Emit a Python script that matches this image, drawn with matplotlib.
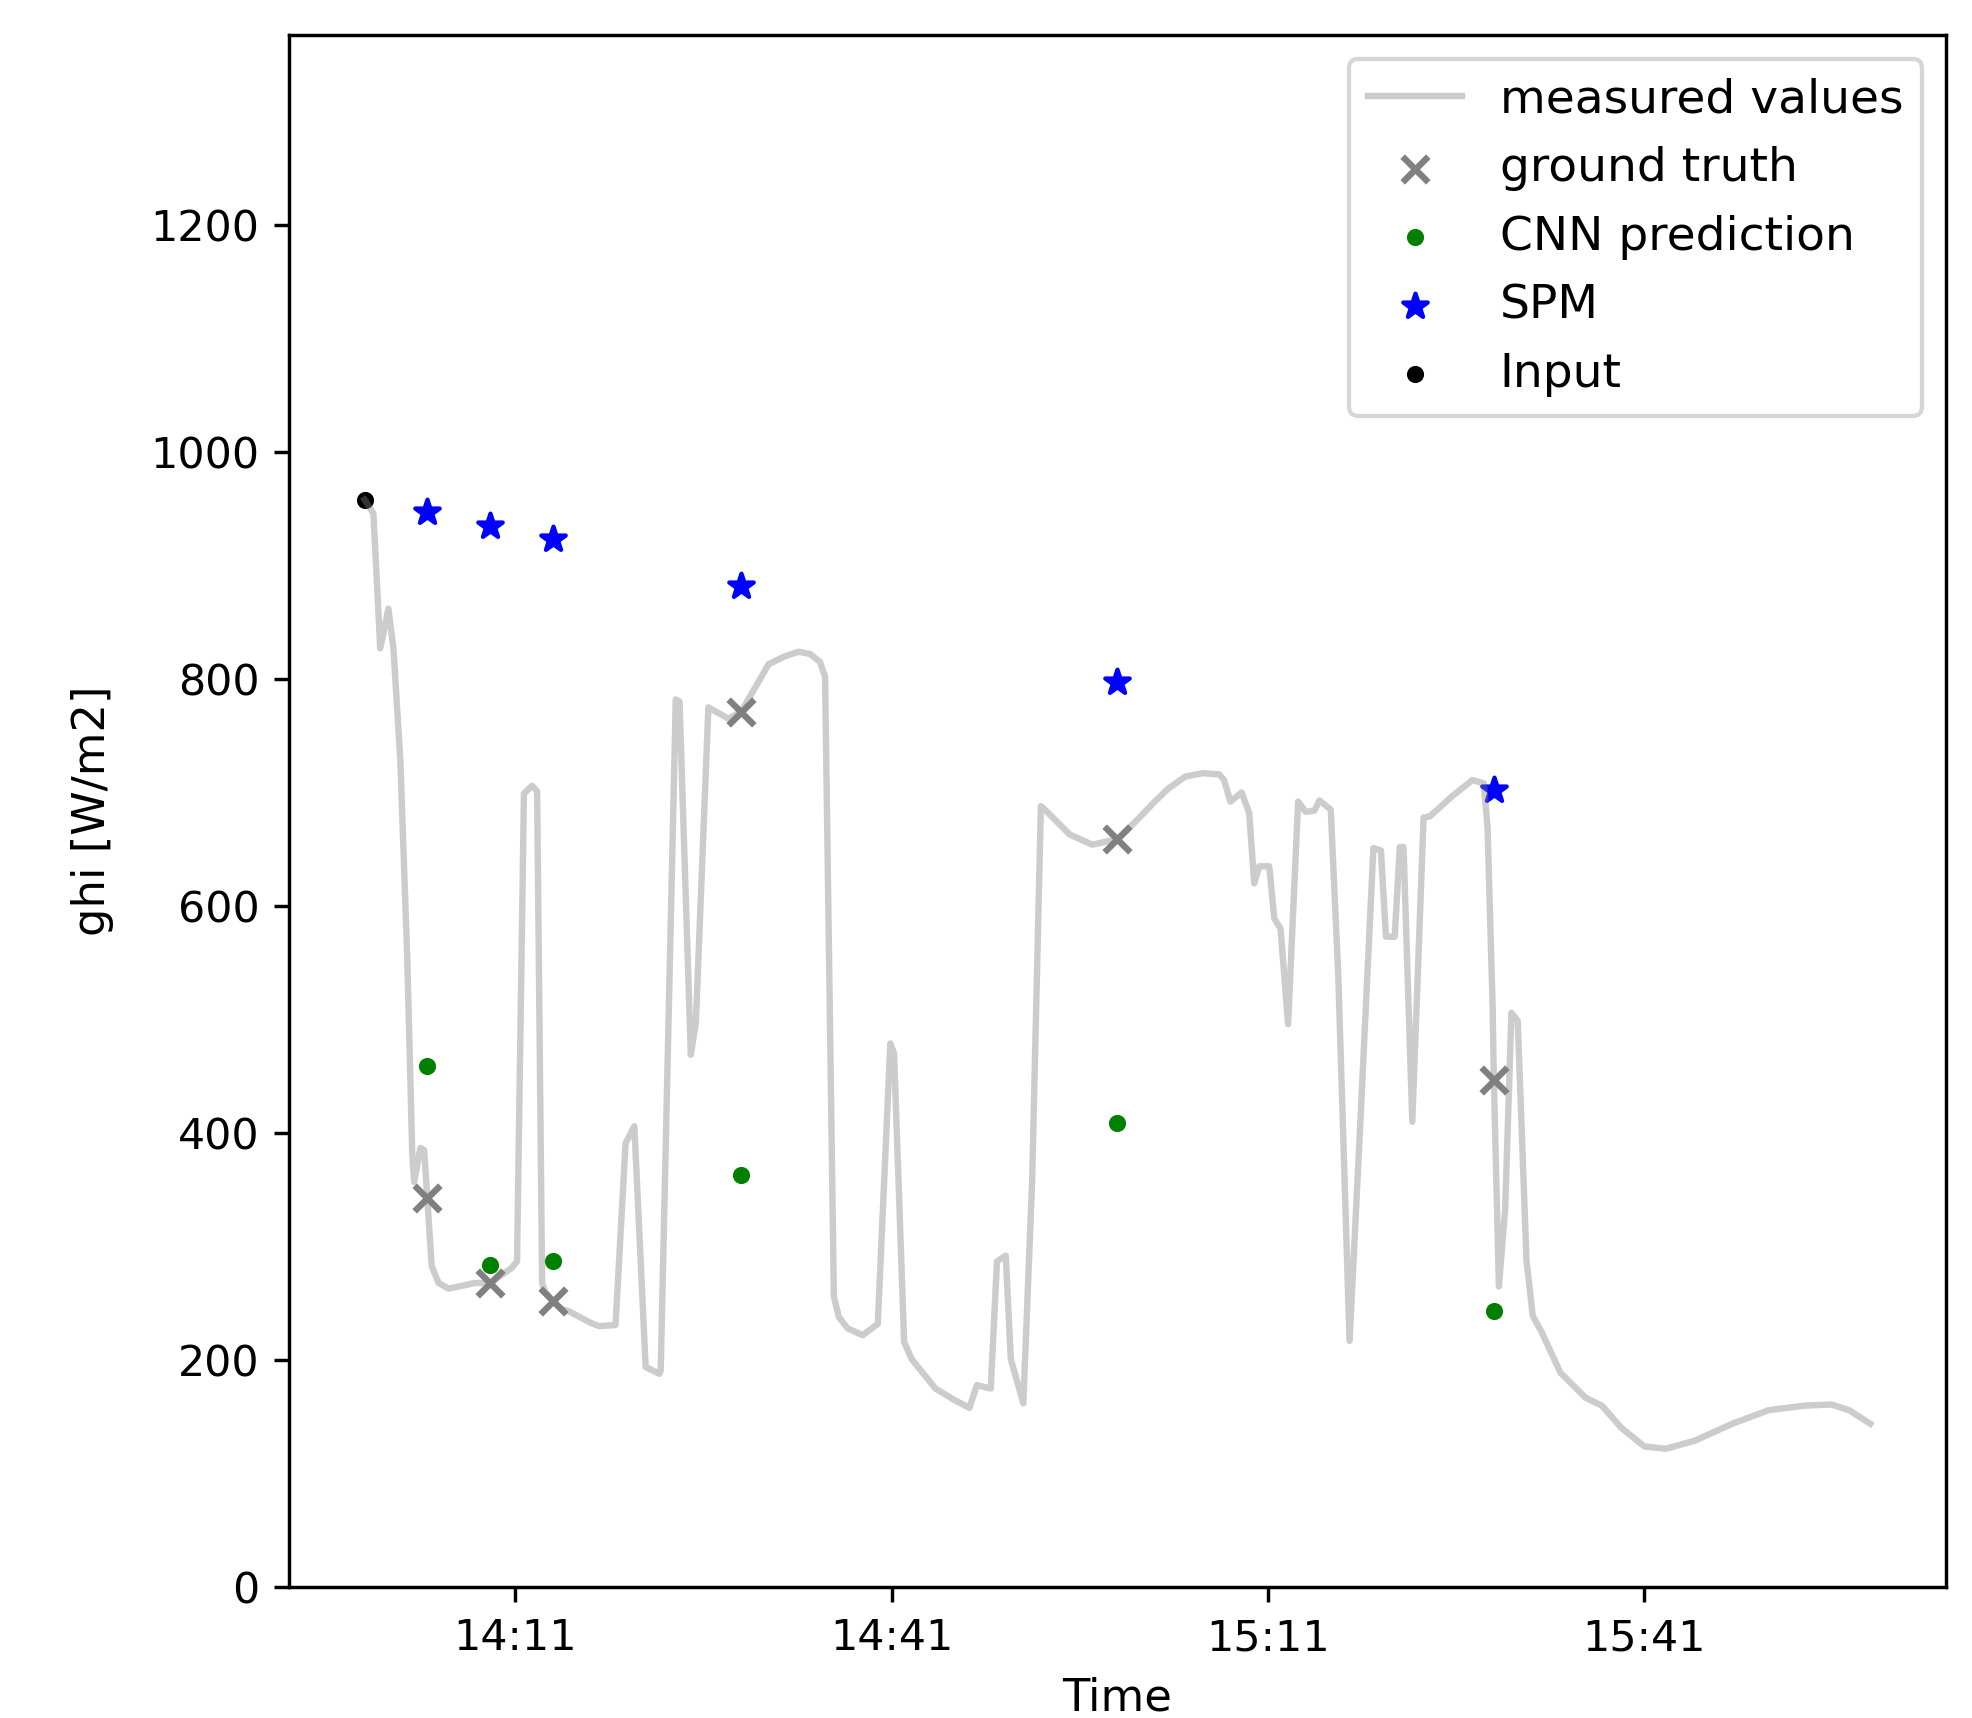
# ghi forecast at 5/10/15/30/60/90 min horizons vs. measured values

import datetime as dt
import matplotlib.pyplot as plt
import matplotlib.dates as mdates

start = dt.datetime(2019, 9, 1, 13, 59)

# measured ghi, minutes after start
meas_min = [0, 0.7, 1.25, 1.9, 2.3, 2.85, 3.4, 3.8, 3.95, 4.45, 4.75, 5.0, 5.35,
            5.9, 6.7, 8.8, 10.0, 11.7, 12.15, 12.7, 13.35, 13.75, 14.15, 14.4,
            15.0, 15.7, 16.3, 18.0, 18.7, 20.0, 20.8, 21.5, 22.4, 23.5, 23.6,
            24.8, 25.1, 26.0, 26.4, 27.4, 29.0, 30.0, 31.0, 32.2, 33.5, 34.6,
            35.5, 36.3, 36.7, 37.4, 37.8, 38.5, 39.7, 40.9, 41.9, 42.2, 43.0,
            43.6, 45.5, 47.0, 48.2, 48.8, 49.9, 50.4, 51.1, 51.5, 52.5, 53.2,
            53.9, 54.3, 56.2, 58.0, 60.0, 61.5, 62.8, 64.0, 65.4, 66.8, 68.1,
            68.5, 69.0, 69.9, 70.5, 70.9, 71.3, 72.1, 72.5, 73.0, 73.6, 74.4,
            75.0, 75.7, 76.1, 77.0, 77.6, 78.5, 79.3, 80.4, 81.0, 81.4, 82.1,
            82.5, 82.8, 83.5, 84.4, 84.9, 86.7, 88.3, 89.2, 89.5, 89.9, 90.0,
            90.4, 90.9, 91.4, 91.9, 92.6, 93.1, 93.8, 95.3, 97.3, 98.6, 100.2,
            102.0, 103.7, 106.0, 109.0, 111.9, 114.8, 116.9, 118.3, 120.0]
meas_ghi = [958, 946, 827, 862, 827, 728, 555, 382, 357, 387, 385, 343, 283,
            268, 263, 268, 268, 281, 287, 699, 706, 701, 268, 260,
            252, 245, 243, 233, 230, 231, 391, 406, 194, 188, 191,
            782, 780, 469, 497, 775, 765, 771, 790, 813, 820, 824,
            822, 815, 802, 256, 238, 228, 222, 232, 479, 470, 216,
            201, 175, 165, 158, 178, 175, 287, 292, 201, 162, 357,
            688, 684, 663, 654, 659, 675, 690, 703, 714, 717, 716,
            711, 692, 700, 682, 620, 635, 635, 589, 580, 496, 692,
            683, 684, 693, 685, 539, 217, 396, 651, 649, 573, 573,
            652, 652, 410, 678, 679, 697, 711, 708, 669, 512, 447,
            265, 333, 506, 499, 288, 239, 225, 189, 167, 160, 140,
            124, 122, 129, 144, 156, 160, 161, 156, 144]

# forecast horizons (minutes after the input image)
horizons = [5, 10, 15, 30, 60, 90]
ground_truth = [343, 268, 252, 771, 659, 447]
cnn_pred = [459, 284, 287, 363, 409, 243]
spm_pred = [947, 935, 923, 882, 797, 702]
input_min = [0]
input_ghi = [958]

meas_t = [start + dt.timedelta(minutes=m) for m in meas_min]
hor_t = [start + dt.timedelta(minutes=m) for m in horizons]
inp_t = [start + dt.timedelta(minutes=m) for m in input_min]

dpi = 308.125
fig = plt.figure(figsize=(1972 / dpi, 1718 / dpi), dpi=dpi)
ax = fig.add_axes([0.1467, 0.0761, 0.8399, 0.9034])

ax.plot(meas_t, meas_ghi, color="grey", alpha=0.4, label="measured values")
ax.scatter(hor_t, ground_truth, marker="x", color="grey", label="ground truth")
ax.scatter(hor_t, cnn_pred, marker=".", color="green", label="CNN prediction")
ax.scatter(hor_t, spm_pred, marker="*", color="blue", label="SPM")
ax.scatter(inp_t, input_ghi, marker=".", color="black", label="Input")

ax.set_ylim(0, 1367)
ax.xaxis.set_major_locator(mdates.MinuteLocator(byminute=[11, 41]))
ax.xaxis.set_major_formatter(mdates.DateFormatter("%H:%M"))
ax.set_xlabel("Time", fontsize=10.5)
ax.set_ylabel("ghi [W/m2]", fontsize=10.5, labelpad=8.5)
ax.legend(loc="upper right", fontsize=11)

fig.savefig("out.png", dpi=dpi)
